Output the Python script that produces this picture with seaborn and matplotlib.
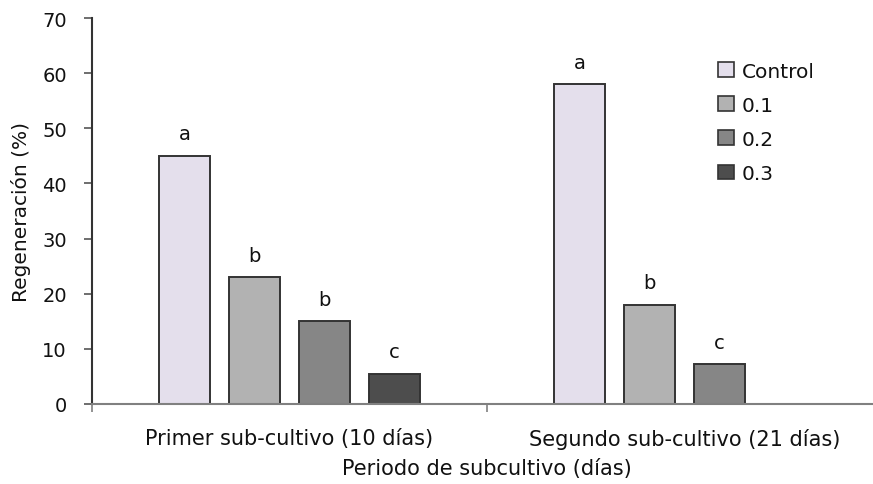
import pandas as pd
import numpy as np
import matplotlib.pyplot as plt
import seaborn as sns

# Data
periods = ["Primer sub-cultivo (10 días)", "Segundo sub-cultivo (21 días)"]
treatments = ["Control", "0.1", "0.2", "0.3"]
values_first = [45, 23, 15, 5.5]
values_second = [58, 18, 7.2, np.nan]
letters_first = ["a", "b", "b", "c"]
letters_second = ["a", "b", "c", ""]
colors = ["#E4DFEC", "#B2B2B2", "#868686", "#4D4D4D"]

data = pd.DataFrame({
    "periodo": np.repeat(periods, len(treatments)),
    "tratamiento": treatments * 2,
    "valor": values_first + values_second,
    "letra": letters_first + letters_second,
})

sns.set_style("white")
plt.rcParams["font.family"] = ["DejaVu Sans"]

fig = plt.figure(figsize=(8.73, 4.85), dpi=100)
ax = fig.add_axes([92 / 873, 80 / 485, 790 / 873, 386 / 485])

sns.barplot(data=data, x="periodo", y="valor", hue="tratamiento",
            order=periods, hue_order=treatments, palette=colors,
            width=0.709, gap=0.27, edgecolor="#333333", linewidth=1.4,
            errorbar=None, ax=ax, saturation=1)

# significance letters
for cont, lab in zip(ax.containers, treatments):
    sub = data[data["tratamiento"] == lab]
    for bar, (_, row) in zip(cont, sub.iterrows()):
        if np.isnan(row["valor"]):
            continue
        ax.annotate(row["letra"], (bar.get_x() + bar.get_width() / 2, row["valor"]),
                    xytext=(0, 9), textcoords="offset points",
                    ha="center", va="bottom", fontsize=14, color="#111111")

ax.set_xlim(-0.5, 1.5)
ax.set_ylim(0, 70)
ax.set_yticks(range(0, 71, 10))
ax.tick_params(axis="y", direction="out", length=6, width=1.2, color="#555555",
               labelsize=14, pad=12, left=True, labelcolor="#111111")
ax.set_xticks([-0.5, 0.5, 1.5], minor=True)
ax.tick_params(axis="x", which="minor", direction="out", length=6, width=1.2,
               color="#808080", bottom=True)
ax.tick_params(axis="x", which="major", length=0, labelsize=15, pad=17,
               labelcolor="#111111")

for s in ["top", "right"]:
    ax.spines[s].set_visible(False)
ax.spines["left"].set_color("#333333")
ax.spines["left"].set_linewidth(1.5)
ax.spines["bottom"].set_color("#808080")
ax.spines["bottom"].set_linewidth(1.5)

ax.set_ylabel("Regeneración (%)", fontsize=14.5, labelpad=8, color="#111111")
ax.set_xlabel("Periodo de subcultivo (días)", fontsize=15, labelpad=7,
              color="#111111")

leg = ax.legend(loc="upper left", bbox_to_anchor=(0.793, 0.887), frameon=False,
                fontsize=14.5, handlelength=0.75, handleheight=0.75,
                handletextpad=0.4, labelspacing=0.75, borderpad=0,
                borderaxespad=0)
for h in leg.legend_handles:
    h.set_edgecolor("#333333")
    h.set_linewidth(1.2)
for t in leg.get_texts():
    t.set_color("#111111")

fig.savefig("out.png", dpi=100)
